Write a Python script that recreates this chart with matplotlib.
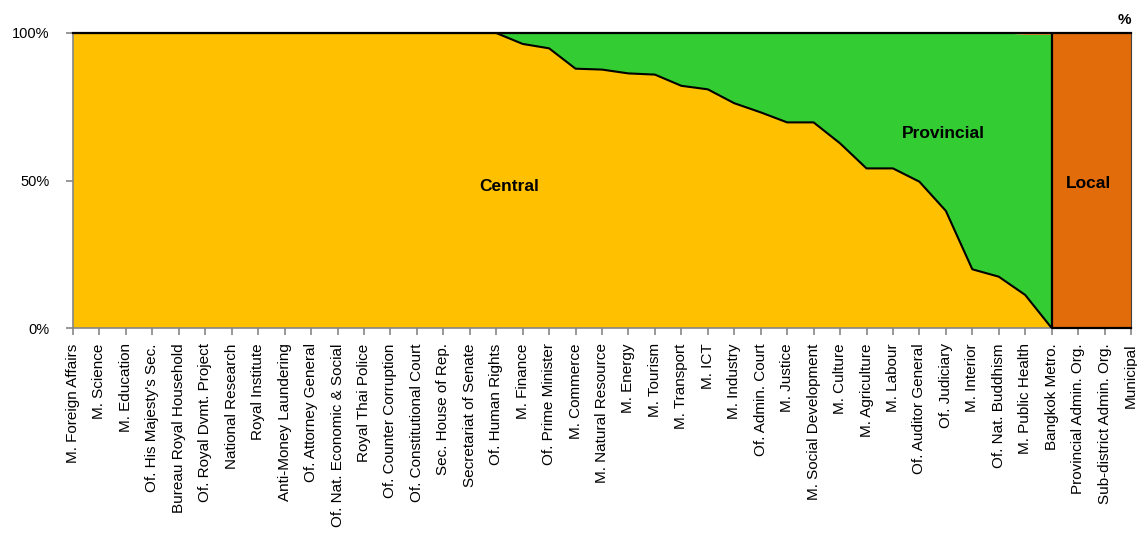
import numpy as np
import matplotlib
matplotlib.use("Agg")
import matplotlib.pyplot as plt

plt.rcParams['font.family'] = ['Liberation Sans', 'DejaVu Sans']

# agencies, left to right
agencies = [
    "M. Foreign Affairs", "M. Science", "M. Education", "Of. His Majesty's Sec.",
    "Bureau Royal Household", "Of. Royal Dvmt. Project", "National Research",
    "Royal Institute", "Anti-Money Laundering", "Of. Attorney General",
    "Of. Nat. Economic & Social", "Royal Thai Police", "Of. Counter Corruption",
    "Of. Constitutional Court", "Sec. House of Rep.", "Secretariat of Senate",
    "Of. Human Rights", "M. Finance", "Of. Prime Minister", "M. Commerce",
    "M. Natural Resource", "M. Energy", "M. Tourism", "M. Transport", "M. ICT",
    "M. Industry", "Of. Admin. Court", "M. Justice", "M. Social Development",
    "M. Culture", "M. Agriculture", "M. Labour", "Of. Auditor General",
    "Of. Judiciary", "M. Interior", "Of. Nat. Buddhism", "M. Public Health",
    "Bangkok Metro.", "Provincial Admin. Org.", "Sub-district Admin. Org.",
    "Municipal",
]

# share of staff (%) by level of government
central = [100] * 17 + [96.3, 94.8, 87.9, 87.6, 86.3, 85.9, 82.1, 80.9, 76.2,
                        73.1, 69.7, 69.7, 62.6, 54.1, 54.1, 49.6, 39.7, 19.9,
                        17.4, 11.2, 0, 0, 0, 0]
local = [0] * 36 + [0.6, 100, 100, 100, 100]
provincial = [100 - c - l for c, l in zip(central, local)]

central = np.array(central, dtype=float)
provincial = np.array(provincial, dtype=float)
local = np.array(local, dtype=float)

# Bangkok Metro. starts the local block: draw a sharp step there
step = agencies.index("Bangkok Metro.")
x = np.arange(len(agencies), dtype=float)
xs = np.insert(x, step, x[step])
cs = np.insert(central, step, 0.0)
ls = np.insert(local, step, local[step - 1])
ps = np.insert(provincial, step, 100 - local[step - 1])

fig = plt.figure(figsize=(11.37, 5.34), dpi=100)
ax = fig.add_axes([73 / 1137, 1 - 328 / 534, (1131 - 73) / 1137, 295 / 534])

ax.stackplot(xs, cs, ps, ls, colors=['#FFC000', '#33CC33', '#E36C0A'],
             linewidth=0)

# outlines
c1 = cs
c2 = cs + ps
c3 = cs + ps + ls
ax.plot(xs, c3, color='black', lw=1.6, zorder=3, clip_on=False)
ax.plot(xs[:step + 1], c1[:step + 1], color='black', lw=1.5, zorder=3)
ax.plot(xs[step:], c2[step:], color='black', lw=1.6, zorder=4, clip_on=False)

ax.set_xlim(0, len(agencies) - 1)
ax.set_ylim(0, 100)
ax.set_xticks(x)
ax.set_xticklabels(agencies, rotation=90, fontsize=11)
ax.set_yticks([0, 50, 100])
ax.set_yticklabels(['0%', '50%', '100%'], fontsize=10.5)

for s in ('left', 'bottom'):
    ax.spines[s].set_color('#868686')
    ax.spines[s].set_linewidth(1.2)
ax.spines['top'].set_visible(False)
ax.spines['right'].set_color('#404040')
ax.tick_params(axis='both', color='#868686', length=5, width=1.2)
ax.tick_params(axis='x', pad=6)
ax.tick_params(axis='y', pad=12)

ax.text(16.5, 48, 'Central', fontsize=12.5, fontweight='bold', ha='center', va='center')
ax.text(32.9, 66, 'Provincial', fontsize=12.5, fontweight='bold', ha='center', va='center')
ax.text(38.4, 49, 'Local', fontsize=12.5, fontweight='bold', ha='center', va='center')
fig.text(1124 / 1137, 1 - 20 / 534, '%', fontsize=11, fontweight='bold',
         ha='center', va='center')

fig.savefig('out.png', dpi=100)
